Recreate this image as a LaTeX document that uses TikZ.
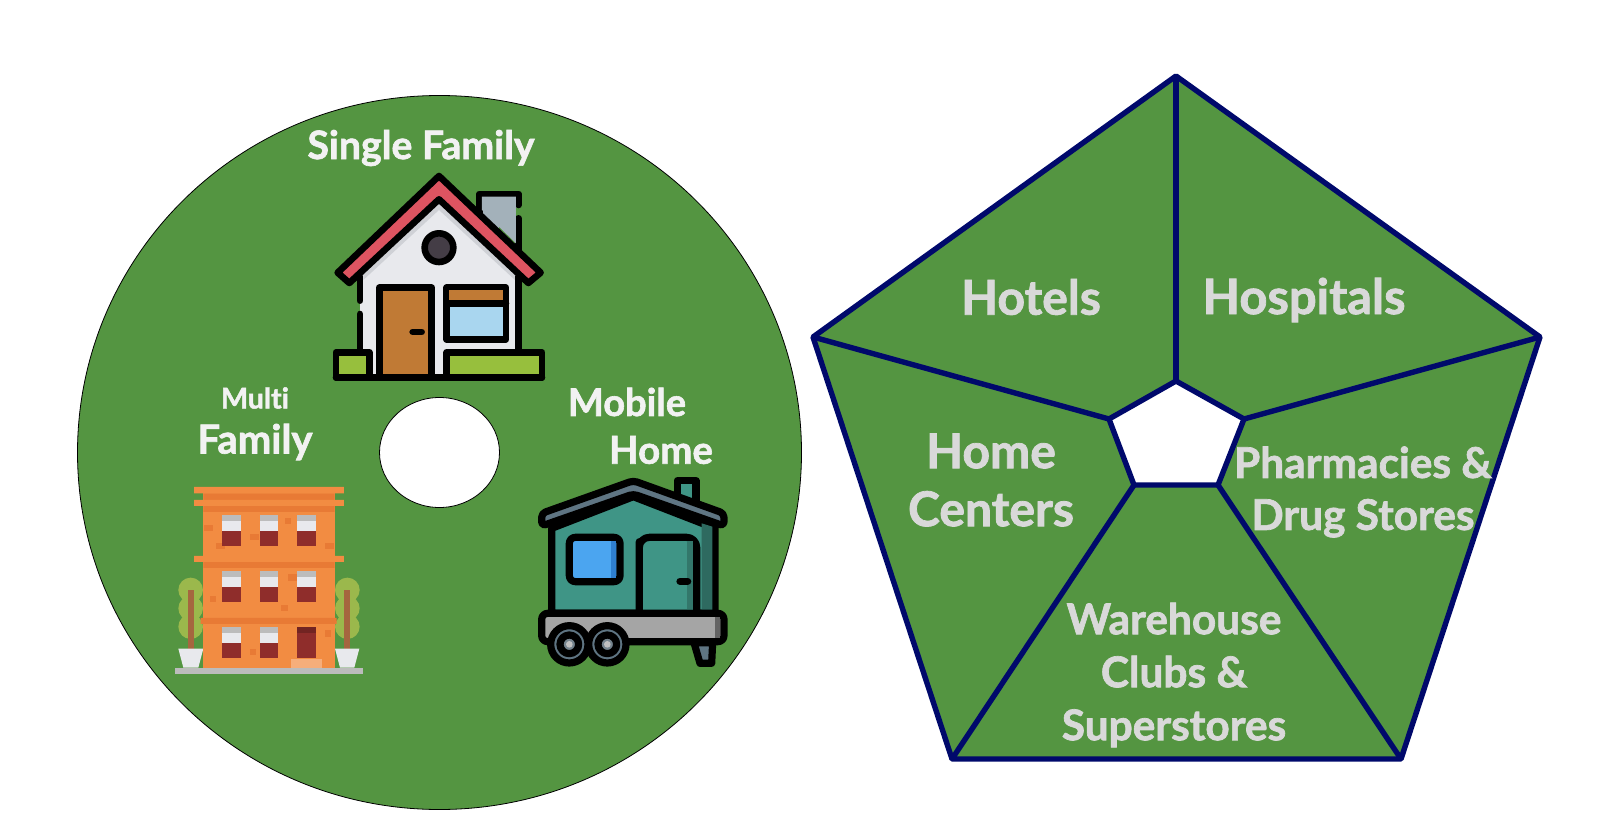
\documentclass[tikz,border=0pt]{standalone}
\usepackage{fontspec}
\setmainfont{Lato}[Ligatures=NoCommon, BoldFeatures={FakeBold=1.6}]
\definecolor{diskgreen}{HTML}{549541}
\definecolor{penline}{HTML}{00096B}
\definecolor{lefttext}{HTML}{F2F2F2}
\definecolor{righttext}{HTML}{D9D9D9}
\definecolor{roofred}{HTML}{DE5461}
\definecolor{wallgrey}{HTML}{E8E9ED}
\definecolor{wallshade}{HTML}{CFD1D6}
\definecolor{chimneygrey}{HTML}{A3B1BA}
\definecolor{doorbrown}{HTML}{C07A35}
\definecolor{glassblue}{HTML}{A9D6EF}
\definecolor{grasslime}{HTML}{97BF3D}
\definecolor{porthole}{HTML}{443D46}
\definecolor{brickorange}{HTML}{F28C42}
\definecolor{brickdark}{HTML}{E87A35}
\definecolor{winred}{HTML}{8F2D2B}
\definecolor{winshade}{HTML}{BCBCBC}
\definecolor{treegreen}{HTML}{9BB84C}
\definecolor{trunkbrown}{HTML}{A5663F}
\definecolor{tealwall}{HTML}{3F9586}
\definecolor{tealdark}{HTML}{2E6A60}
\definecolor{slate}{HTML}{5F7583}
\definecolor{skyblue}{HTML}{4BA5F0}
\definecolor{skydark}{HTML}{2F7FD0}
\definecolor{trailer}{HTML}{A5A5A5}
\tikzset{
  disklabel/.style={font=\bfseries, text=lefttext, align=center, inner sep=0pt},
  penlabel/.style={font=\bfseries\fontsize{24}{27}\selectfont, text=righttext, align=center, inner sep=0pt},
  penedge/.style={draw=penline, line width=2.7pt, line join=round},
  inkline/.style={draw=black, line width=3.3pt, line join=round, line cap=round},
  iconscope/.style={x=.5pt/3, y=-.5pt/3}
}
\begin{document}
\begin{tikzpicture}[x=.5pt, y=-.5pt]
        \useasboundingbox (0,0) rectangle (1601,824) ;

        \coordinate (diskc) at (439.5,452.5) ;
        \fill [diskgreen, draw=black, line width=.4pt] (diskc) ellipse [x radius=362, y radius=357] ;
        \fill [white, draw=black, line width=.4pt] (diskc) ellipse [x radius=60, y radius=55] ;

        % house
        \begin{scope}[shift={(310,110)}, iconscope]
          \filldraw [fill=chimneygrey, inkline] (508,420) -- (508,252) -- (626,252) -- (626,285) (626,325) -- (626,420) ;
          \fill [chimneygrey] (516,260) -- (618,260) -- (618,400) -- (516,300) -- cycle ;
          \fill [wallgrey] (150,490) -- (387,270) -- (625,490) -- (625,795) -- (150,795) -- cycle ;
          \fill [wallshade] (160,490) -- (387,270) -- (615,490) -- (615,510) -- (387,300) -- (160,510) -- cycle ;
          \draw [inkline] (150,500) -- (150,572) (150,612) -- (150,720) ;
          \draw [inkline] (625,500) -- (625,720) ;
          \draw [inkline, fill=roofred] (83,488) -- (387,198) -- (692,488) -- (655,519) -- (387,268) -- (118,519) -- cycle ;
          \draw [inkline, fill=porthole] (387,413) circle [radius=43] ;
          \draw [inkline, fill=doorbrown] (208,800) -- (208,533) -- (365,533) -- (365,800) ;
          \draw [inkline] (308,666) -- (335,666) ;
          \draw [inkline, fill=glassblue] (410,533) rectangle (588,688) ;
          \fill [doorbrown] (418,541) rectangle (580,572) ;
          \draw [inkline] (410,580) -- (588,580) ;
          \draw [inkline, fill=grasslime] (78,727) rectangle (178,802) ;
          \draw [inkline, fill=grasslime] (410,727) rectangle (696,802) ;
          \draw [inkline] (78,802) -- (696,802) ;
        \end{scope}

        % apartment block
        \begin{scope}[shift={(160,370)}, iconscope]
          \foreach \treex/\potl/\potr/\potbl/\potbr in {92/55/130/70/115, 562/525/598/540/583} {
            \fill [treegreen] (\treex,660) circle [radius=37] (\treex,715) circle [radius=37] (\treex,770) circle [radius=37] ;
            \fill [trunkbrown] (\treex-9,660) rectangle (\treex+9,836) ;
            \fill [wallgrey] (\potl,836) -- (\potr,836) -- (\potbr,893) -- (\potbl,893) -- cycle ;
          }
          \fill [brickorange] (130,370) rectangle (524,893) ;
          \fill [winshade] (45,893) rectangle (608,912) ;
          \fill [brickdark] (130,370) rectangle (524,390) (130,408) rectangle (524,426) (130,576) rectangle (524,594) (122,744) rectangle (530,762) ;
          \fill [brickorange] (102,351) rectangle (552,370) (102,390) rectangle (552,408) (102,558) rectangle (552,576) ;
          \foreach \brickx/\bricky/\brickw/\brickh in {133/464/25/18, 168/518/27/20, 270/491/28/19, 374/445/19/18, 496/518/26/20, 383/612/27/20, 149/677/19/19, 364/705/19/19, 270/836/19/19, 496/780/18/20} {
            \fill [brickdark] (\brickx,\bricky) rectangle ++(\brickw,\brickh) ;
          }
          \foreach \winx/\winy in {186/436, 299/436, 411/436, 186/604, 299/604, 411/604, 186/772, 299/772} {
            \fill [winshade] (\winx,\winy) rectangle ++(56,18) ;
            \fill [wallgrey] (\winx,\winy+18) rectangle ++(56,28) ;
            \fill [winred] (\winx,\winy+46) rectangle ++(56,46) ;
          }
          \fill [winred] (411,772) rectangle (467,864) ;
          \fill [winred!80!black] (411,772) rectangle (467,790) ;
          \fill [brickorange!70!white] (392,866) rectangle (486,893) ;
        \end{scope}

        % mobile home
        \begin{scope}[shift={(520,460)}, iconscope, inkline/.append style={line width=3.6pt}]
          \draw [inkline, fill=tealwall] (472,120) -- (472,62) -- (528,62) -- (528,130) ;
          \draw [inkline, fill=tealwall] (95,205) -- (340,110) -- (585,205) -- (585,460) -- (95,460) -- cycle ;
          \fill [tealdark] (545,190) -- (577,200) -- (577,450) -- (545,450) -- cycle ;
          \draw [inkline, fill=tealwall] (358,455) -- (358,245) [rounded corners=5pt] -- (358,232) -- (530,232) [sharp corners] -- (530,455) ;
          \fill [tealdark!70!tealwall] (500,244) rectangle (518,448) ;
          \draw [inkline] (480,364) -- (503,364) ;
          \draw [inkline, fill=skyblue, rounded corners=3pt] (148,232) rectangle (300,365) ;
          \fill [skydark] (274,244) rectangle (288,353) ;
          \draw [inkline, fill=slate, rounded corners=2pt] (65,160) -- (340,62) -- (612,160) -- (612,198) -- (340,102) -- (65,198) -- cycle ;
          \draw [inkline, fill=slate] (522,548) -- (578,548) -- (575,610) -- (540,610) -- cycle ;
          \draw [inkline, fill=trailer, rounded corners=3pt] (65,460) rectangle (612,545) ;
          \fill [trailer!60!black] (586,472) rectangle (600,533) ;
          \foreach \wheelx in {148,262} {
            \draw [inkline, fill=slate] (\wheelx,553) circle [radius=56] ;
            \draw [inkline, fill=slate!70!trailer] (\wheelx,553) circle [radius=28] ;
            \fill [trailer!70!white] (\wheelx,553) circle [radius=10] ;
          }
        \end{scope}

        \node [disklabel, font=\bfseries\fontsize{19.6}{22}\selectfont] (single) at (421,148) {Single Family} ;
        \node [disklabel, font=\bfseries\fontsize{14.3}{16}\selectfont] (multi) at (255,398) {Multi} ;
        \node [disklabel, font=\bfseries\fontsize{20}{22}\selectfont] (family) at (255,442) {Family} ;
        \node [disklabel, font=\bfseries\fontsize{19}{22}\selectfont] (mobile) at (627,402) {Mobile} ;
        \node [disklabel, font=\bfseries\fontsize{19.2}{22}\selectfont] (home) at (661,450) {Home} ;

        \foreach \pname/\px/\py in {a/1176/76, b/1540/337, c/1401/759, d/952/759, e/813/337} {
          \coordinate (out\pname) at (\px,\py) ;
        }
        \foreach \pname/\px/\py in {a/1176/381, b/1244/419, c/1218/485, d/1134/485, e/1109/419} {
          \coordinate (in\pname) at (\px,\py) ;
        }
        \fill [diskgreen] (outa) -- (outb) -- (outc) -- (outd) -- (oute) -- cycle ;
        \fill [white] (ina) -- (inb) -- (inc) -- (ind) -- (ine) -- cycle ;
        \draw [penedge] (outa) -- (outb) -- (outc) -- (outd) -- (oute) -- cycle ;
        \draw [penedge] (ina) -- (inb) -- (inc) -- (ind) -- (ine) -- cycle ;
        \foreach \pname in {a,b,c,d,e} {
          \draw [penedge] (out\pname) -- (in\pname) ;
        }

        \node [penlabel] (hotels) at (1031,297) {Hotels} ;
        \node [penlabel, font=\bfseries\fontsize{24.4}{27}\selectfont] (hospitals) at (1304,300) {Hospitals} ;
        \node [penlabel, font=\bfseries\fontsize{24}{29}\selectfont] (centers) at (991,480) {Home\\Centers} ;
        \node [penlabel, font=\bfseries\fontsize{21.2}{26}\selectfont] (pharm) at (1363,492) {Pharmacies \&\\Drug Stores} ;
        \node [penlabel, font=\bfseries\fontsize{21.2}{26.5}\selectfont] (clubs) at (1174,675) {Warehouse\\Clubs \&\\Superstores} ;
      \end{tikzpicture}
\end{document}
